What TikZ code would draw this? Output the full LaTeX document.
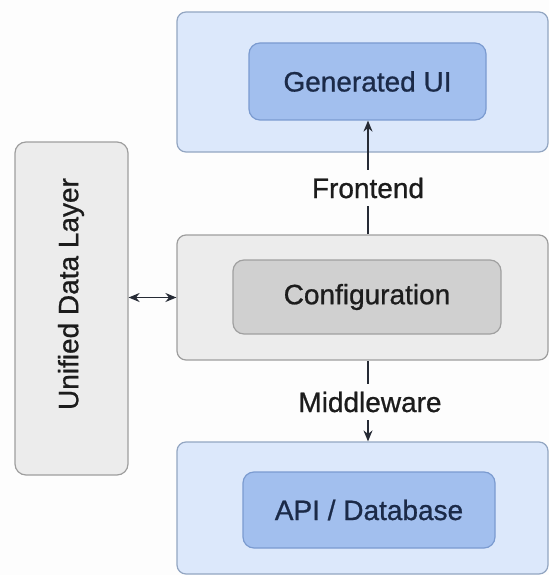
\documentclass[tikz,border=0pt]{standalone}
\usepackage{fontspec}
\setmainfont{Liberation Sans}
\newfontfamily\medfont{Liberation Sans}[FakeBold=0.8]
\usetikzlibrary{arrows.meta}
\definecolor{pagebg}{HTML}{FDFDFD}
\definecolor{layerblue}{HTML}{DCE8FB}
\definecolor{layerblueline}{HTML}{93A6C2}
\definecolor{coreblue}{HTML}{A2BFEE}
\definecolor{coreblueline}{HTML}{7B9BD0}
\definecolor{layergray}{HTML}{ECECEC}
\definecolor{layergrayline}{HTML}{9E9E9E}
\definecolor{coregray}{HTML}{D0D0D0}
\definecolor{coregrayline}{HTML}{A0A0A0}
\definecolor{navytext}{HTML}{1B2A48}
\definecolor{darktext}{HTML}{1C1C1C}
\definecolor{arrowink}{HTML}{262B35}
\tikzset{
  labelfont/.style={font=\medfont\fontsize{28}{30}\selectfont},
  layerbox/.style={draw=#1line, fill=#1, line width=1.2pt, rounded corners=9pt, inner sep=0pt},
  corebox/.style={draw=#1line, fill=#1, line width=1.2pt, rounded corners=11pt, inner sep=0pt, labelfont},
  flowlabel/.style={labelfont, text=darktext, inner xsep=2pt, inner ysep=8pt},
  flowline/.style={draw=arrowink, line width=1.6pt},
  tip/.style={-{Stealth[length=11pt,width=9pt]}},
  bothtips/.style={{Stealth[length=11pt,width=9pt]}-{Stealth[length=11pt,width=9pt]}}
}
\begin{document}
\begin{tikzpicture}[x=1pt,y=-1pt]
\useasboundingbox (0,0) rectangle (549,575);
\fill[pagebg] (0,0) rectangle (549,575);

% three stacked layers on the right
\node[layerbox=layerblue, minimum width=371pt, minimum height=140pt] (frontlayer) at (362.5,82) {};
\node[layerbox=layergray, minimum width=371pt, minimum height=125pt] (midlayer) at (362.5,297.5) {};
\node[layerbox=layerblue, minimum width=371pt, minimum height=132pt] (backlayer) at (362.5,508) {};

% inner components
\node[corebox=coreblue, text=navytext, minimum width=237pt, minimum height=77pt] (genui) at (367.5,81.5) {Generated UI};
\node[corebox=coregray, text=darktext, minimum width=268pt, minimum height=74pt] (config) at (367,297) {Configuration};
\node[corebox=coreblue, text=navytext, minimum width=252pt, minimum height=76pt] (apidb) at (369,510) {API / Database};

% side data layer, its label sits a little above the box centre
\node[layerbox=layergray, rounded corners=11pt, minimum width=113pt, minimum height=333pt] (udl) at (71.5,308.5) {};
\node[rotate=90, labelfont, text=darktext] (udltext) at (71,294) {Unified Data Layer};

% flow labels
\node[flowlabel] (fe) at (368,188) {Frontend};
\node[flowlabel] (mw) at (370,402) {Middleware};

% connectors
\draw[flowline] (fe |- midlayer.north) -- (fe.south);
\draw[flowline, tip] (fe.north) -- (fe |- genui.south);
\draw[flowline] (mw.north -| fe) -- (fe |- midlayer.south);
\draw[flowline, tip] (mw.south -| fe) -- (fe |- backlayer.north);
\draw[flowline, bothtips] (udl.east |- midlayer.west) -- (midlayer.west);
\end{tikzpicture}
\end{document}
